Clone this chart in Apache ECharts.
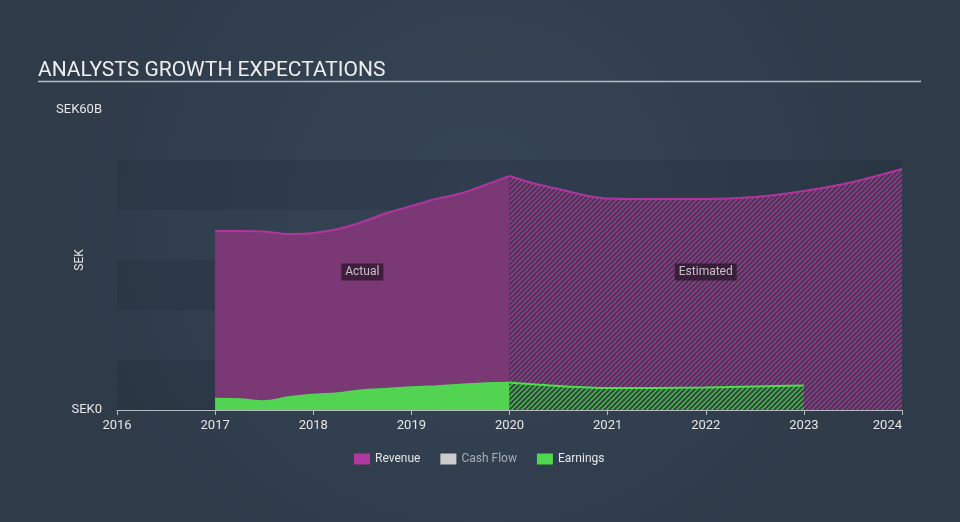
<!DOCTYPE html>
<html>
<head>
<meta charset="utf-8">
<script src="https://cdn.jsdelivr.net/npm/echarts@6/dist/echarts.min.js"></script>
<style>
html,body{margin:0;padding:0;background:#334151;}
#chart{width:960px;height:522px;}
</style>
</head>
<body>
<div id="chart"></div>
<script>
// ---- data ----
var revenueActualYears = [2017, 2017.25, 2017.5, 2017.75, 2018, 2018.25, 2018.5, 2018.75, 2019, 2019.25, 2019.5, 2019.75, 2020];
var revenueActual      = [35.8, 35.8, 35.7, 35.2, 35.4, 36.2, 37.6, 39.4, 40.8, 42.2, 43.3, 45.0, 46.8];
var revenueEstYears    = [2020, 2020.25, 2020.5, 2020.75, 2021, 2021.5, 2022, 2022.5, 2023, 2023.5, 2024];
var revenueEst         = [46.8, 45.3, 44.2, 43.0, 42.3, 42.2, 42.2, 42.6, 43.8, 45.6, 48.2];
var earningsActualYears = [2017, 2017.25, 2017.5, 2017.75, 2018, 2018.25, 2018.5, 2018.75, 2019, 2019.25, 2019.5, 2019.75, 2020];
var earningsActual      = [2.3, 2.2, 1.8, 2.6, 3.1, 3.4, 4.0, 4.3, 4.6, 4.8, 5.1, 5.4, 5.5];
var earningsEstYears    = [2020, 2020.5, 2021, 2021.5, 2022, 2022.5, 2023];
var earningsEst         = [5.5, 4.8, 4.4, 4.4, 4.5, 4.7, 4.9];
var cashFlow = [];
var legendNames = ['Revenue', 'Cash Flow', 'Earnings'];
var periodLabels = ['Actual', 'Estimated'];
var periodLabelYears = [2018.5, 2022.0];
var periodLabelValues = [27.6, 27.6];
var yTickMin = 0, yTickMax = 60, yTickStep = 10;
var xMin = 2016, xMax = 2024;

function pairs(xs, ys){ return xs.map(function(x,i){ return [x, ys[i]]; }); }

function hatch(stripe, bg){
  var n = 5, c = document.createElement('canvas');
  c.width = n; c.height = n;
  var g = c.getContext('2d');
  g.fillStyle = bg; g.fillRect(0,0,n,n);
  g.fillStyle = stripe;
  for (var x=0;x<n;x++) for (var y=0;y<n;y++) {
    if ((x + y) % n < 2) g.fillRect(x,y,1,1);
  }
  return c;
}

var chart = echarts.init(document.getElementById('chart'));
var FONT = 'Roboto, "Noto Sans", sans-serif';
var option = {
  backgroundColor: {
    type: 'radial', x: 0.5, y: 0.4, r: 0.8,
    colorStops: [{offset:0, color:'#364557'}, {offset:1, color:'#2f3b49'}]
  },
  animation: false,
  textStyle: {fontFamily: FONT},
  title: {
    text: 'ANALYSTS GROWTH EXPECTATIONS',
    left: 33, top: 55,
    textStyle: {color: '#eeeeee', fontSize: 21, fontWeight: 'normal', fontFamily: FONT}
  },
  graphic: [{
    type: 'line', shape: {x1: 38, y1: 81.5, x2: 921, y2: 81.5},
    style: {stroke: '#b4bac2', lineWidth: 1.5}
  }],
  grid: {left: 117, right: 58, top: 110, bottom: 112},
  legend: {
    data: [
      {name: 'Revenue', textStyle: {color: '#e6e6e6'}},
      {name: 'Cash Flow', textStyle: {color: '#a9adb3'}},
      {name: 'Earnings', textStyle: {color: '#e6e6e6'}}
    ],
    top: 448, left: 349,
    icon: 'rect', itemWidth: 16, itemHeight: 11, itemGap: 20,
    textStyle: {fontSize: 12, fontFamily: FONT},
    selectedMode: false
  },
  xAxis: {
    type: 'value', min: xMin, max: xMax, interval: 1,
    axisLine: {lineStyle: {color: '#b4bac2', width: 1}},
    axisTick: {show: true, length: 5, lineStyle: {color: '#b4bac2'}},
    splitLine: {show: false},
    axisLabel: {color: '#e6e6e6', fontSize: 13, margin: 9, alignMaxLabel: 'right',
      formatter: function(v){ return String(v); }}
  },
  yAxis: {
    type: 'value', min: yTickMin, max: yTickMax, interval: yTickStep,
    name: 'SEK', nameLocation: 'middle', nameGap: 31, nameRotate: 90,
    nameMoveOverlap: false,
    nameTextStyle: {color: '#e6e6e6', fontSize: 12},
    axisLine: {show: false}, axisTick: {show: false},
    splitLine: {show: false},
    splitArea: {show: true, areaStyle: {color: ['rgba(25,35,48,0.18)', 'rgba(0,0,0,0)']}},
    axisLabel: {color: '#e6e6e6', fontSize: 13, margin: 15,
      formatter: function(v){ if (v === yTickMin) return 'SEK0'; if (v === yTickMax) return 'SEK' + v + 'B'; return ''; }}
  },
  series: [
    {
      name: 'Revenue', type: 'line', data: pairs(revenueActualYears, revenueActual),
      smooth: 0.3, symbol: 'none', z: 2,
      itemStyle: {color: '#b0399f'},
      lineStyle: {color: '#b0359e', width: 2},
      areaStyle: {color: '#7a3975', opacity: 1}
    },
    {
      name: 'Revenue', type: 'line', data: pairs(revenueEstYears, revenueEst),
      smooth: 0.3, symbol: 'none', z: 2,
      itemStyle: {color: '#b0399f'},
      lineStyle: {color: '#b0359e', width: 2},
      areaStyle: {color: {image: hatch('#93398a', '#4a3856'), repeat: 'repeat'}, opacity: 1}
    },
    {
      name: 'Cash Flow', type: 'line', data: cashFlow, symbol: 'none',
      itemStyle: {color: '#cccccc'}, lineStyle: {color: '#cccccc'}
    },
    {
      name: 'Earnings', type: 'line', data: pairs(earningsActualYears, earningsActual),
      smooth: 0.3, symbol: 'none', z: 3,
      itemStyle: {color: '#4fd84f'},
      lineStyle: {color: '#4fd84f', width: 1.5},
      areaStyle: {color: '#52d452', opacity: 1}
    },
    {
      name: 'Earnings', type: 'line', data: pairs(earningsEstYears, earningsEst),
      smooth: 0.3, symbol: 'none', z: 3,
      itemStyle: {color: '#4fd84f'},
      lineStyle: {color: '#49e049', width: 2},
      areaStyle: {color: {image: hatch('#4aad4d', '#32503f'), repeat: 'repeat'}, opacity: 1}
    },
    {
      name: 'labels', type: 'scatter', symbolSize: 0, z: 5, silent: true,
      data: periodLabels.map(function(t,i){ return {value: [periodLabelYears[i], periodLabelValues[i]], name: t}; }),
      label: {
        show: true, position: 'inside', formatter: '{b}',
        color: '#e8e8e8', fontSize: 12, fontFamily: FONT,
        backgroundColor: 'rgba(35,18,35,0.85)', padding: [3, 4, 2, 4]
      }
    }
  ]
};
chart.setOption(option);
</script>
</body>
</html>
